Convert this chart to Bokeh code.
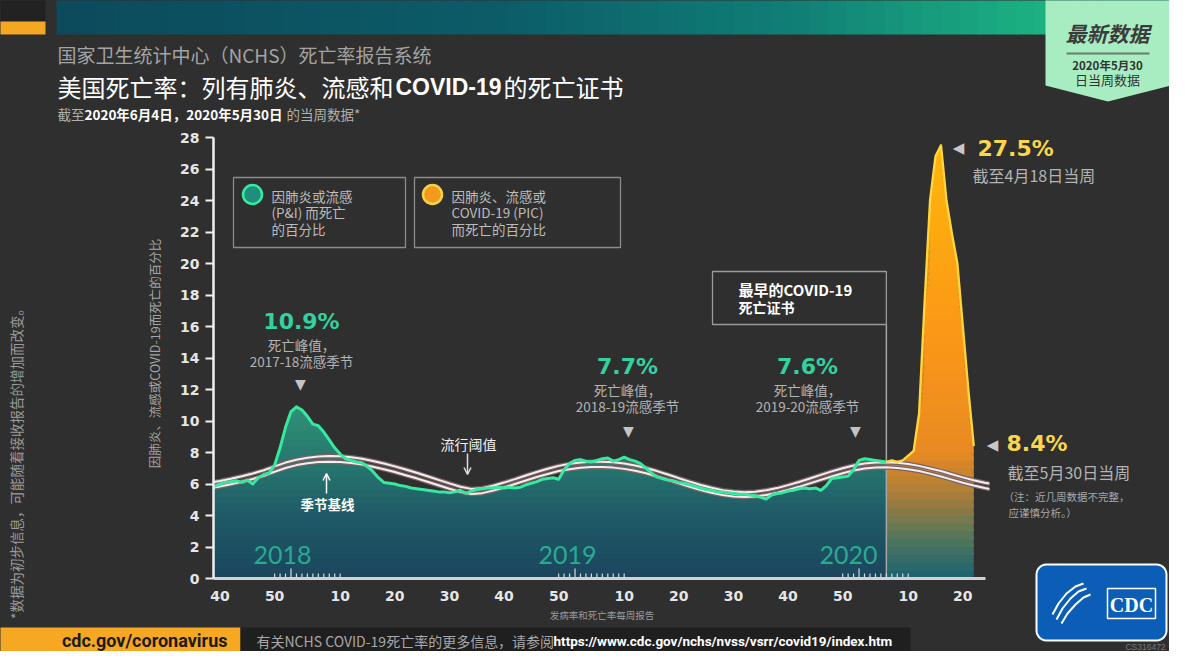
import numpy as np
from bokeh.plotting import figure
from bokeh.models import Range1d, FixedTicker, Arrow, OpenHead
from bokeh.core.properties import value
from bokeh.embed import file_html
from bokeh.resources import INLINE

# ---------------- data ----------------
# x position = consecutive week index; 0 = MMWR week 40 of 2017
pi_weeks = list(range(-2, 123))
pi_pct = [
    5.80, 5.85, 6.00, 6.10, 6.15, 6.20, 6.10, 6.25, 6.00, 6.40,
    6.60, 6.70, 7.20, 8.30, 9.60, 10.60, 10.90, 10.70, 10.30, 9.80,
    9.70, 9.30, 8.80, 8.30, 7.90, 7.60, 7.50, 7.40, 7.35, 7.10,
    6.80, 6.40, 6.10, 6.05, 6.00, 5.90, 5.85, 5.75, 5.70, 5.65,
    5.60, 5.55, 5.50, 5.50, 5.45, 5.50, 5.60, 5.40, 5.55, 5.65,
    5.70, 5.75, 5.75, 5.80, 5.75, 5.80, 5.75, 5.80, 5.95, 6.05,
    6.15, 6.30, 6.35, 6.40, 6.30, 6.90, 7.30, 7.50, 7.55, 7.45,
    7.40, 7.50, 7.60, 7.65, 7.45, 7.55, 7.70, 7.55, 7.45, 7.30,
    7.00, 6.70, 6.45, 6.35, 6.25, 6.20, 6.10, 6.05, 5.95, 5.85,
    5.75, 5.65, 5.60, 5.50, 5.50, 5.45, 5.40, 5.35, 5.35, 5.30,
    5.25, 5.15, 5.05, 5.30, 5.40, 5.45, 5.55, 5.60, 5.70, 5.75,
    5.70, 5.75, 5.60, 5.90, 6.35, 6.40, 6.45, 6.50, 6.90, 7.50,
    7.60, 7.55, 7.50, 7.45, 7.40,
]
pic_weeks = list(range(122, 139))
pic_pct = [7.40, 7.50, 7.40, 7.50, 7.80, 8.10, 10.50, 17.50, 24.00,
           26.80, 27.50, 24.00, 21.90, 20.00, 16.00, 12.00, 8.40]
base_weeks = list(range(-2, 143, 2))
baseline_pct = [
    5.72, 5.84, 5.98, 6.14, 6.32, 6.52, 6.78, 7.02, 7.20, 7.32,
    7.40, 7.42, 7.40, 7.34, 7.24, 7.10, 6.94, 6.76, 6.56, 6.36,
    6.14, 5.92, 5.70, 5.50, 5.37, 5.42, 5.58, 5.78, 6.00, 6.22,
    6.44, 6.64, 6.82, 6.94, 7.03, 7.08, 7.08, 7.04, 6.96, 6.84,
    6.68, 6.48, 6.26, 6.04, 5.82, 5.62, 5.44, 5.30, 5.21, 5.18,
    5.21, 5.30, 5.44, 5.62, 5.82, 6.04, 6.26, 6.48, 6.68, 6.86,
    6.98, 7.05, 7.06, 7.02, 6.94, 6.82, 6.66, 6.48, 6.28, 6.08,
    5.90, 5.74, 5.62,
]
threshold_pct = [
    6.08, 6.19, 6.33, 6.49, 6.67, 6.87, 7.12, 7.36, 7.54, 7.67,
    7.75, 7.78, 7.76, 7.70, 7.60, 7.46, 7.30, 7.12, 6.92, 6.71,
    6.49, 6.26, 6.04, 5.83, 5.69, 5.73, 5.89, 6.09, 6.31, 6.54,
    6.76, 6.97, 7.15, 7.28, 7.37, 7.42, 7.42, 7.38, 7.30, 7.18,
    7.02, 6.82, 6.60, 6.37, 6.15, 5.94, 5.76, 5.61, 5.52, 5.48,
    5.51, 5.60, 5.74, 5.93, 6.13, 6.35, 6.58, 6.80, 7.00, 7.18,
    7.30, 7.37, 7.38, 7.35, 7.27, 7.15, 6.99, 6.82, 6.62, 6.42,
    6.24, 6.08, 5.96,
]
tick_weeks = [0, 10, 22, 32, 42, 52, 62, 74, 84, 94, 104, 114, 126, 136]
tick_labels = ["40", "50", "10", "20", "30", "40", "50", "10", "20", "30", "40", "50", "10", "20"]
y_ticks = list(range(0, 29, 2))
years = ["2018", "2019", "2020"]
year_week1 = [13, 65, 117]      # MMWR week 1 of each year
covid_week = 122                # first COVID-19 death certificates

# ---------------- styling / layout ----------------
CJK = "Noto Sans CJK SC"
NUM = "DejaVu Sans"
LAT = "Liberation Sans"
ROB = "Roboto"
BG = "#2f2f2f"
GREEN_LINE = "#36e8a0"
GREEN_TXT = "#33d19d"
YEL_LINE = "#ffd53d"
YEL_TXT = "#f9d64a"
GRAY = "#b3b3b3"
YEAR_C = "#29ab90"

W, H = 1169, 651
FR_L, FR_R, FR_T, FR_B = 213, 990, 128, 578   # plot frame, canvas px
X_ORIGIN, PX_PER_WEEK = 219.5, 5.462
PX_PER_PCT = 15.75

xs0 = (FR_L - X_ORIGIN) / PX_PER_WEEK
xs1 = (FR_R - X_ORIGIN) / PX_PER_WEEK
ys1 = (FR_B - FR_T) / PX_PER_PCT

p = figure(width=W, height=H, output_backend="svg", toolbar_location=None,
           x_range=Range1d(xs0, xs1), y_range=Range1d(0, ys1),
           min_border_left=FR_L, min_border_right=W - FR_R,
           min_border_top=FR_T, min_border_bottom=H - FR_B,
           background_fill_color=BG, border_fill_color=BG)
p.outline_line_color = None
p.styles = {"background-color": BG}
p.extra_x_ranges = {"px": Range1d(FR_L, FR_R)}
p.extra_y_ranges = {"py": Range1d(FR_B, FR_T)}
p.grid.visible = False
PXR = dict(x_range_name="px", y_range_name="py")


def wx(w):
    return X_ORIGIN + PX_PER_WEEK * w


def lerp_color(v, stops):
    if v <= stops[0][0]:
        c = stops[0][1]
    elif v >= stops[-1][0]:
        c = stops[-1][1]
    else:
        for (v0, c0), (v1, c1) in zip(stops[:-1], stops[1:]):
            if v0 <= v <= v1:
                t = (v - v0) / (v1 - v0)
                c = tuple(a + (b - a) * t for a, b in zip(c0, c1))
                break
    return "#%02x%02x%02x" % tuple(int(round(k)) for k in c)


def gradient_area(xs, ys, stops, step):
    xs = np.asarray(xs, float)
    ys = np.asarray(ys, float)
    levels = np.arange(0, ys.max() + step, step)
    for lo, hi in zip(levels[:-1], levels[1:]):
        p.varea(x=xs, y1=np.minimum(ys, lo), y2=np.minimum(ys, hi + step * 0.35),
                fill_color=lerp_color((lo + hi) / 2, stops))


def txt(x, y, s, size, color, font=CJK, style="normal", align="left", base="middle", angle=0.0):
    p.text(x=[x], y=[y], text=[s], level="overlay", text_font=value(font),
           text_font_size=value(f"{size}px"), text_font_style=style, text_color=color,
           text_align=align, text_baseline=base, angle=angle, **PXR)


def box(l, r, t, b, fill=None, line=None, lw=1.0):
    p.quad(left=[l], right=[r], top=[t], bottom=[b], level="annotation",
           fill_color=fill, fill_alpha=1.0 if fill else 0.0, line_color=line, line_width=lw, **PXR)


def rounded(l, r, t, b, rad):
    xs, ys = [], []
    for cx, cy, a0 in [(r - rad, t + rad, -np.pi / 2), (r - rad, b - rad, 0),
                       (l + rad, b - rad, np.pi / 2), (l + rad, t + rad, np.pi)]:
        a = np.linspace(a0, a0 + np.pi / 2, 8)
        xs += list(cx + rad * np.cos(a))
        ys += list(cy + rad * np.sin(a))
    return xs, ys


# cover the anti-aliasing seam along the top / right edge of the plot frame
p.multi_line(xs=[[FR_L, FR_R + 1], [FR_R, FR_R]], ys=[[FR_T, FR_T], [FR_T, FR_B - 2]],
             line_color=BG, line_width=2, level="annotation", **PXR)

# ---------------- areas ----------------
teal_stops = [(0, (27, 70, 94)), (4, (31, 90, 102)), (7, (38, 116, 110)), (11, (48, 146, 118))]
orange_stops = [(0, (26, 98, 114)), (2.5, (80, 118, 92)), (5, (160, 124, 60)), (8, (232, 138, 34)),
                (15, (250, 150, 24)), (28, (255, 184, 10))]
gradient_area(pi_weeks, pi_pct, teal_stops, 0.4)
gradient_area(pic_weeks, pic_pct, orange_stops, 0.5)

# first COVID-19 death certificate marker line
covid_box_bottom = 324
p.segment(x0=[covid_week], y0=[0], x1=[covid_week], y1=[(FR_B - covid_box_bottom) / PX_PER_PCT],
          line_color="#a6a6a6", line_width=1.5)

# baseline and epidemic threshold
for series in (baseline_pct, threshold_pct):
    p.line(base_weeks, series, line_color="#7a6266", line_width=4.5)
    p.line(base_weeks, series, line_color="#f4efef", line_width=2)

p.line(pi_weeks, pi_pct, line_color=GREEN_LINE, line_width=3, line_join="round")
p.line(pic_weeks, pic_pct, line_color=YEL_LINE, line_width=2.4, line_join="round")

# small week ticks near each new year
mt_x, mt_h = [], []
for w1 in year_week1:
    for w in range(w1 - 3, w1 + 10):
        mt_x.append(w)
        mt_h.append(10 if w == w1 else 5)
p.segment(x0=mt_x, y0=[0] * len(mt_x), x1=mt_x, y1=[h / PX_PER_PCT for h in mt_h],
          line_color="#d9d9d9", line_width=1.2)

# ---------------- axes ----------------
xa = p.xaxis[0]
xa.ticker = FixedTicker(ticks=tick_weeks)
xa.major_label_overrides = {w: l for w, l in zip(tick_weeks, tick_labels)}
xa.major_tick_line_color = None
xa.major_tick_out = 0
xa.major_tick_in = 0
xa.minor_tick_line_color = None
xa.axis_line_color = "#d2d2d2"
xa.axis_line_width = 3
xa.bounds = (xs0, 140.2)
xa.major_label_text_font = NUM
xa.major_label_text_font_style = "bold"
xa.major_label_text_font_size = "14px"
xa.major_label_text_color = "#e6e6e6"
xa.major_label_standoff = 12
xa.axis_label = "发病率和死亡率每周报告"
xa.axis_label_text_font = CJK
xa.axis_label_text_font_style = "normal"
xa.axis_label_text_font_size = "9.5px"
xa.axis_label_text_color = "#9a9a9a"
xa.axis_label_standoff = 4

ya = p.yaxis[0]
ya.ticker = FixedTicker(ticks=y_ticks)
ya.bounds = (0, 28)
ya.axis_line_color = "#f0f0f0"
ya.axis_line_width = 2.5
ya.major_tick_out = 8
ya.major_tick_in = 0
ya.major_tick_line_color = "#f0f0f0"
ya.major_tick_line_width = 2
ya.minor_tick_line_color = None
ya.major_label_text_font = NUM
ya.major_label_text_font_style = "bold"
ya.major_label_text_font_size = "14px"
ya.major_label_text_color = "#e6e6e6"
ya.major_label_standoff = 6
ya.axis_label = "因肺炎、流感或COVID-19而死亡的百分比"
ya.axis_label_text_font = CJK
ya.axis_label_text_font_style = "normal"
ya.axis_label_text_font_size = "12.5px"
ya.axis_label_text_color = "#a5a5a5"
ya.axis_label_standoff = 13

# ---------------- legend boxes ----------------
p.quad(left=[233, 414], right=[405, 620], top=[177, 177], bottom=[247, 247],
       fill_alpha=0, line_color="#8b8b8b", line_width=1.3, **PXR)
p.scatter(x=[252], y=[194], size=19, fill_color="#1d8f7c", line_color="#3be8a2", line_width=2.5, **PXR)
p.scatter(x=[432], y=[194], size=19, fill_color="#f39a1c", line_color="#f3d34a", line_width=2.5, **PXR)
for i, s in enumerate(["因肺炎或流感", "(P&I) 而死亡", "的百分比"]):
    txt(271, 195 + 16.5 * i, s, 13.5, "#bcbcbc")
for i, s in enumerate(["因肺炎、流感或", "COVID-19 (PIC)", "而死亡的百分比"]):
    txt(451, 195 + 16.5 * i, s, 13.5, "#bcbcbc")

# ---------------- chart annotations ----------------
for (cx, pct, season, tri_x) in [(301, "10.9%", "2017-18流感季节", 300),
                                 (627, "7.7%", "2018-19流感季节", 628),
                                 (807, "7.6%", "2019-20流感季节", 855)]:
    y0 = 321 if pct == "10.9%" else 366
    txt(cx, y0, pct, 22, GREEN_TXT, NUM, "bold", "center")
    txt(cx, y0 + 23, "死亡峰值，", 13.5, GRAY, align="center")
    txt(cx, y0 + 39, season, 13.5, GRAY, align="center")
    txt(tri_x, 383 if pct == "10.9%" else 430, "▼", 14, "#c4c4c4", NUM, align="center")

# earliest COVID-19 death certificate box
p.quad(left=[712], right=[wx(covid_week)], top=[271], bottom=[covid_box_bottom],
       fill_alpha=0, line_color="#9a9a9a", line_width=1.3, **PXR)
txt(738, 289, "最早的COVID-19", 15, "#ffffff", style="bold")
txt(738, 306, "死亡证书", 14, "#ffffff", style="bold")

txt(468, 443, "流行阈值", 14, "#f0f0f0", align="center")
p.add_layout(Arrow(x_start=467, y_start=453, x_end=467, y_end=474, line_color="#dddddd", line_width=1.5,
                   end=OpenHead(size=7, line_color="#dddddd", line_width=1.5), **PXR))
txt(327, 503, "季节基线", 13.5, "#ffffff", style="bold", align="center")
p.add_layout(Arrow(x_start=326, y_start=493, x_end=326, y_end=473, line_color="#ffffff", line_width=1.5,
                   end=OpenHead(size=7, line_color="#ffffff", line_width=1.5), **PXR))

for name, cx in zip(years, [282, 567, 848]):
    txt(cx, 554, name, 25, YEAR_C, "Lato", align="center")

txt(958, 147, "◀", 15, "#c8c8c8", NUM, align="center")
txt(977, 148, "27.5%", 22, YEL_TXT, NUM, "bold")
txt(972, 174, "截至4月18日当周", 16, GRAY)
txt(992, 444, "◀", 15, "#c8c8c8", NUM, align="center")
txt(1006, 443, "8.4%", 22, YEL_TXT, NUM, "bold")
txt(1007, 471, "截至5月30日当周", 16, GRAY)
txt(1003, 496, "（注：近几周数据不完整，", 10.5, "#a8a8a8")
txt(1008, 512, "应谨慎分析。）", 10.5, "#a8a8a8")

# ---------------- page decorations ----------------
box(0, 45, 0, 21, "#222222")
box(0, 45, 21, 34, "#f5a623")
banner_stops = [(56, (12, 74, 92)), (500, (12, 92, 104)), (800, (16, 128, 118)),
                (1000, (26, 170, 128)), (1185, (34, 196, 138))]
edges = np.linspace(56, 1185, 61)
p.quad(left=list(edges[:-1]), right=list(edges[1:] + 1), top=[0] * 60, bottom=[34] * 60,
       fill_color=[lerp_color((a + b) / 2, banner_stops) for a, b in zip(edges[:-1], edges[1:])],
       line_color=None, level="annotation", **PXR)
p.patch(x=[1045, 1170, 1170, 1107.5, 1045], y=[0, 0, 85, 101, 85], fill_color="#a8edc1",
        line_color=None, level="annotation", **PXR)
txt(1107, 32, "最新数据", 21, "#3b3b3b", CJK, "bold italic", "center")
box(1066, 1149, 52, 54, "#6b7a6e")
txt(1107, 64, "2020年5月30", 11.5, "#333333", CJK, "bold", "center")
txt(1107, 79, "日当周数据", 13, "#333333", CJK, "normal", "center")

txt(57, 54, "国家卫生统计中心（NCHS）死亡率报告系统", 19, "#a3a3a3")
txt(57, 86, "美国死亡率：列有肺炎、流感和", 24, "#ffffff")
txt(395, 86, "COVID-19", 23, "#ffffff", LAT, "bold")
txt(503, 86, "的死亡证书", 24, "#ffffff")
txt(57, 113, "截至", 13.5, "#b0b0b0")
txt(84, 113, "2020年6月4日，2020年5月30日", 13.5, "#ffffff", CJK, "bold")
txt(286, 113, "的当周数据*", 13.5, "#b0b0b0")

txt(15, 460, "*数据为初步信息，可能随着接收报告的增加而改变。", 13.5, "#9b9b9b", angle=np.pi / 2, align="center")

box(0, 240, 627, 651, "#f7a823")
txt(227, 640, "cdc.gov/coronavirus", 18, "#1b1b1b", ROB, "bold", "right")
box(240, 910, 627, 651, "#1f1f1f")
txt(256, 640, "有关NCHS COVID-19死亡率的更多信息，请参阅", 14, "#a8a8a8")
txt(553, 640, "https://www.cdc.gov/nchs/nvss/vsrr/covid19/index.htm", 13.5, "#ffffff", ROB, "bold")

# CDC logo
rx, ry = rounded(1036, 1166, 564, 640, 10)
p.patch(x=rx, y=ry, fill_color="#0c5db6", line_color="#ffffff", line_width=2, level="annotation", **PXR)
p.scatter(x=[1065], y=[603], size=44, fill_color=None, line_color="#ffffff", line_width=1.5,
          level="annotation", **PXR)
p.multi_line(xs=[[1052, 1058, 1066, 1075, 1083], [1056, 1062, 1070, 1078, 1086], [1061, 1067, 1075, 1083, 1090]],
             ys=[[614, 603, 593, 586, 583], [619, 608, 598, 591, 588], [623, 613, 604, 597, 594]],
             line_color="#ffffff", line_width=2, level="annotation", **PXR)
box(1107, 1155, 588, 618, None, "#ffffff", 1.5)
txt(1131, 604, "CDC", 20, "#ffffff", "Liberation Serif", "bold", "center")
txt(1145, 646, "CS316472", 8.5, "#7a7a7a", LAT, align="center")

open("out.html", "w").write(file_html(p, INLINE))
